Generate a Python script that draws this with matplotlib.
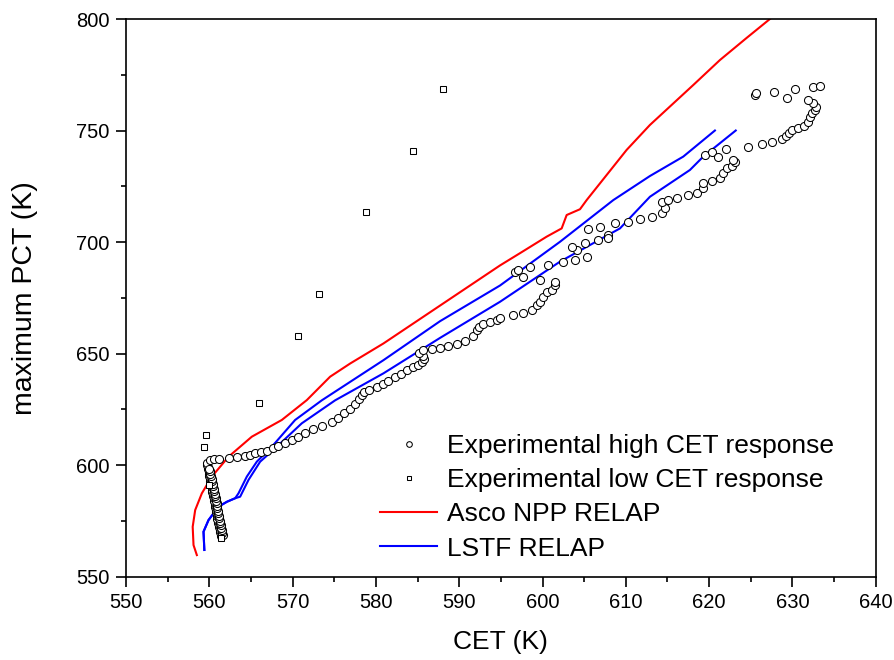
import matplotlib
matplotlib.use("Agg")
import matplotlib.pyplot as plt
from matplotlib.ticker import MultipleLocator

plt.rcParams['font.family'] = ['Liberation Sans', 'DejaVu Sans']

# Experimental high CET response (circles)
high_cet = [561.38, 561.34, 561.28, 561.23, 561.17, 561.13, 561.07, 561.03, 560.97, 560.93,
            560.87, 560.83, 560.77, 560.72, 560.67, 560.63, 560.57, 560.52, 560.47, 560.43,
            560.37, 560.32, 560.27, 560.22, 560.17, 560.12, 560.06, 560.01, 559.96, 559.90,
            559.84, 559.79, 559.75, 559.72,
            561.62, 561.55, 561.50, 561.44, 561.38, 561.31, 561.26, 561.20, 561.14, 561.09,
            561.02, 560.97, 560.91, 560.86, 560.80, 560.74, 560.68, 560.63, 560.57, 560.51,
            560.45, 560.39, 560.33, 560.27, 560.20, 560.13, 560.06, 559.98,
            560.1, 560.5, 561.1, 562.3, 563.3, 564.3, 564.9, 565.5, 566.2, 566.9,
            567.6, 568.3, 569.1, 569.9, 570.7, 571.5, 572.5, 573.5, 574.7,
            575.5, 576.2, 576.9, 577.5, 578.0, 578.3, 578.6, 579.2, 580.1, 580.8,
            581.5, 582.3, 583.0, 583.7, 584.4, 585.0, 585.5, 585.8, 585.7, 585.2,
            585.7, 586.7, 587.7, 588.7, 589.7, 590.7, 591.7, 592.1, 592.4, 592.9,
            593.7, 594.5,
            594.9, 596.5, 597.7, 598.7, 599.3, 599.7, 600.1, 600.5, 601.1, 601.5, 601.5,
            596.7, 597.1, 597.7, 598.5, 599.7, 600.7, 602.5, 603.9, 604.1, 603.5,
            605.1, 605.3, 605.5, 606.7, 606.9, 607.9, 607.9, 608.7, 610.3, 611.7,
            613.1, 614.3, 614.7, 614.3, 615.1, 616.1,
            617.5, 618.5, 619.3, 619.3, 620.3, 621.3, 621.7, 622.1, 622.7, 623.1, 622.9,
            619.5, 620.3, 621.1, 622.0, 624.7, 626.4, 627.6, 628.8, 629.2, 629.6,
            630.0, 630.7, 631.4, 631.9, 632.1, 632.4, 632.7, 632.8, 632.5, 631.9,
            625.5, 625.6, 627.8, 629.4, 630.3, 632.5, 633.3]
high_pct = [568.0, 569.0, 570.0, 571.0, 572.0, 573.0, 574.0, 575.0, 576.0, 577.0,
            578.0, 579.0, 580.0, 581.0, 582.0, 583.0, 584.0, 585.0, 586.0, 587.0,
            588.0, 589.0, 590.0, 591.0, 592.0, 593.0, 594.0, 595.0, 596.0, 597.0,
            598.0, 599.0, 600.0, 601.0,
            568.5, 569.6, 570.7, 571.8, 572.9, 574.0, 575.1, 576.2, 577.3, 578.4,
            579.5, 580.6, 581.7, 582.8, 583.9, 585.0, 586.1, 587.2, 588.3, 589.4,
            590.5, 591.6, 592.7, 593.8, 594.9, 596.0, 597.1, 598.2,
            602.2, 602.7, 602.7, 603.3, 603.7, 604.2, 604.5, 605.3, 605.8, 606.4,
            607.5, 608.5, 609.7, 611.2, 612.7, 614.2, 616.0, 617.6, 619.4,
            621.2, 623.2, 625.2, 627.3, 629.5, 631.2, 632.6, 633.8, 635.1, 636.4,
            637.7, 639.4, 641.0, 642.6, 643.8, 645.0, 646.2, 647.4, 648.8, 650.2,
            651.6, 651.9, 652.6, 653.4, 654.3, 655.7, 657.8, 660.5, 661.8, 663.2,
            664.3, 665.0,
            665.8, 667.3, 668.3, 669.5, 671.7, 673.2, 675.5, 677.7, 678.5, 680.7, 682.2,
            686.7, 687.4, 684.4, 688.9, 683.0, 689.7, 691.2, 691.9, 696.4, 697.9,
            699.4, 693.4, 705.7, 700.9, 706.9, 703.1, 701.7, 708.4, 709.1, 710.2,
            711.3, 712.9, 715.1, 718.1, 718.8, 719.9,
            721.1, 722.1, 724.1, 726.3, 727.5, 728.6, 730.8, 733.0, 734.1, 736.0, 736.8,
            739.0, 740.5, 738.0, 741.7, 742.7, 743.9, 745.0, 746.0, 747.5, 749.0,
            750.2, 751.0, 752.0, 753.9, 756.2, 757.7, 759.2, 760.7, 762.2, 763.7,
            765.9, 766.7, 767.4, 764.4, 768.6, 769.4, 770.1]

# Experimental low CET response (squares)
low_cet = [561.4, 559.9, 559.4, 559.6, 566.0, 570.6, 573.2, 578.8, 584.4, 588.0]
low_pct = [567.4, 591.0, 608.0, 613.5, 627.7, 658.0, 676.8, 713.5, 740.8, 768.5]

# Asco NPP RELAP
asco_cet = [558.5, 558.1, 558.0, 558.3, 559.1, 560.3, 562.3, 565.1, 568.7, 571.7,
            574.5, 576.9, 580.9, 585.7, 589.7, 594.9, 597.3, 600.5, 602.3, 602.9,
            604.5, 605.3, 606.9, 610.1, 612.9, 618.1, 621.3, 624.5, 627.3]
asco_pct = [559.6, 564.1, 572.3, 579.8, 587.3, 594.8, 603.7, 612.7, 620.2, 629.1,
            639.6, 645.5, 654.5, 666.5, 676.5, 689.5, 695.0, 702.4, 706.1, 712.1,
            714.7, 718.8, 726.3, 741.3, 752.5, 770.4, 781.6, 791.5, 800.0]

# LSTF RELAP (two runs)
lstf1_cet = [559.4, 559.3, 559.9, 561.1, 562.1, 563.1, 563.5, 564.5, 565.7, 567.5,
             570.3, 573.5, 580.9, 587.7, 594.9, 602.1, 608.5, 612.9, 616.9, 620.7]
lstf1_pct = [561.9, 570.1, 575.3, 581.3, 583.5, 585.1, 587.3, 594.8, 601.5, 608.2,
             620.2, 629.0, 647.0, 664.5, 680.5, 700.1, 718.8, 729.6, 738.3, 750.0]
lstf2_cet = [559.4, 559.3, 559.9, 561.1, 562.1, 563.1, 563.7, 564.7, 566.1, 567.9,
             571.1, 575.1, 580.9, 587.7, 594.9, 602.1, 609.3, 612.9, 617.7, 619.3, 623.2]
lstf2_pct = [561.9, 570.1, 575.3, 581.3, 583.5, 585.1, 585.8, 593.3, 601.5, 607.5,
             618.7, 629.0, 641.1, 657.0, 673.2, 691.2, 706.1, 720.3, 732.3, 738.3, 750.0]

fig = plt.figure(figsize=(8.94, 6.6), dpi=100)
ax = fig.add_axes([0.141, 0.1265, 0.8385, 0.8447])

ax.plot(high_cet, high_pct, 'o', ms=5.8, mfc='white', mec='black', mew=0.75,
        label="Experimental high CET response", zorder=3)
ax.plot(low_cet, low_pct, 's', ms=5.0, mfc='white', mec='black', mew=0.75,
        label="Experimental low CET response", zorder=4)
ax.plot(asco_cet, asco_pct, '-', color='#ff0000', lw=1.5, label="Asco NPP RELAP", zorder=2)
ax.plot(lstf1_cet, lstf1_pct, '-', color='#0000ff', lw=1.5, label="LSTF RELAP", zorder=2)
ax.plot(lstf2_cet, lstf2_pct, '-', color='#0000ff', lw=1.5, zorder=2)

ax.set_xlim(550, 640)
ax.set_ylim(550, 800)
ax.xaxis.set_major_locator(MultipleLocator(10))
ax.xaxis.set_minor_locator(MultipleLocator(5))
ax.yaxis.set_major_locator(MultipleLocator(50))
ax.yaxis.set_minor_locator(MultipleLocator(25))
ax.tick_params(which='both', direction='out', top=False, right=False, width=1.2,
               labelsize=14.5)
ax.tick_params(which='major', length=7)
ax.tick_params(which='minor', length=3.5)
ax.tick_params(axis='x', pad=5)
ax.tick_params(axis='y', pad=5)
for sp in ax.spines.values():
    sp.set_linewidth(1.2)

ax.set_xlabel("CET (K)", fontsize=19, labelpad=12.5)
ax.set_ylabel("maximum PCT (K)", fontsize=20.5, labelpad=27)

leg = ax.legend(loc='upper left', bbox_to_anchor=(0.339, 0.256), frameon=False,
                fontsize=19, handlelength=2.15, handletextpad=0.38,
                labelspacing=0.39, borderpad=0, borderaxespad=0, markerscale=0.7)

fig.savefig("out.png", dpi=100)
